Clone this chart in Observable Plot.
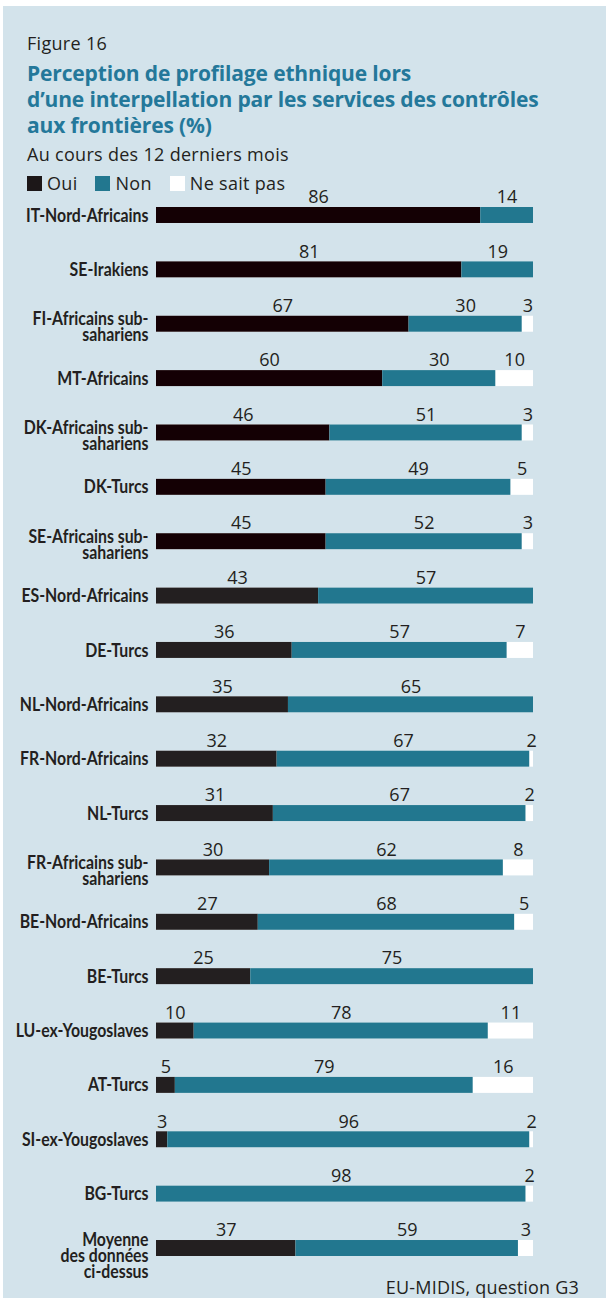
<!DOCTYPE html>
<html>
<head>
<meta charset="utf-8">
<script src="https://cdn.jsdelivr.net/npm/d3@7"></script>
<script src="https://cdn.jsdelivr.net/npm/@observablehq/plot@0.6"></script>
<style>
  html, body { margin: 0; padding: 0; background: #ffffff; }
  body { width: 610px; height: 1303px; position: relative; overflow: hidden; font-family: "Open Sans", "Noto Sans", sans-serif; color: #231f20; }
  #panel { position: absolute; left: 3px; top: 6px; width: 603px; height: 1292px; background: #d3e3eb; }
  .fig { position: absolute; left: 27px; top: 32px; font-size: 18px; line-height: 22px; letter-spacing: 0.3px; }
  .title { position: absolute; left: 27px; top: 60px; font-size: 21px; font-weight: 700; color: #24789a; line-height: 26px; letter-spacing: -0.15px; }
  .sub { position: absolute; left: 27px; top: 143px; font-size: 18px; line-height: 22px; letter-spacing: 0.3px; }
  .legend { position: absolute; left: 27px; top: 172px; font-size: 18px; line-height: 22px; display: flex; align-items: center; letter-spacing: 0.3px; }
  .legend span.sw { display: inline-block; width: 15px; height: 15px; margin-right: 5px; }
  .legend span.lab { margin-right: 18px; }
  #chart { position: absolute; left: 0; top: 176px; }
  .caption { position: absolute; right: 31px; top: 1276px; font-size: 18px; line-height: 22px; letter-spacing: 0.2px; }
</style>
</head>
<body>
<div id="panel"></div>
<div class="fig">Figure 16</div>
<div class="title">Perception de profilage ethnique lors<br>d’une interpellation par les services des contrôles<br>aux frontières (%)</div>
<div class="sub">Au cours des 12 derniers mois</div>
<div class="legend" id="legend"></div>
<div id="chart"></div>
<div class="caption">EU-MIDIS, question G3</div>
<script>
const categories = [
  "IT-Nord-Africains",
  "SE-Irakiens",
  "FI-Africains sub-\nsahariens",
  "MT-Africains",
  "DK-Africains sub-\nsahariens",
  "DK-Turcs",
  "SE-Africains sub-\nsahariens",
  "ES-Nord-Africains",
  "DE-Turcs",
  "NL-Nord-Africains",
  "FR-Nord-Africains",
  "NL-Turcs",
  "FR-Africains sub-\nsahariens",
  "BE-Nord-Africains",
  "BE-Turcs",
  "LU-ex-Yougoslaves",
  "AT-Turcs",
  "SI-ex-Yougoslaves",
  "BG-Turcs",
  "Moyenne\ndes données\nci-dessus"
];
const oui = [86, 81, 67, 60, 46, 45, 45, 43, 36, 35, 32, 31, 30, 27, 25, 10, 5, 3, 0, 37];
const non = [14, 19, 30, 30, 51, 49, 52, 57, 57, 65, 67, 67, 62, 68, 75, 78, 79, 96, 98, 59];
const nsp = [0, 0, 3, 10, 3, 5, 3, 0, 7, 0, 2, 2, 8, 5, 0, 11, 16, 2, 2, 3];
const seriesNames = ["Oui", "Non", "Ne sait pas"];
const seriesColors = ["#1c1718", "#22778f", "#ffffff"];

const rows = categories.map((c, i) => ({cat: c, i, oui: oui[i], non: non[i], nsp: nsp[i], lines: c.split("\n").length}));
const labels = [];
rows.forEach(r => {
  if (r.oui > 0) labels.push({cat: r.cat, v: r.oui, x: r.oui / 2});
  if (r.non > 0) labels.push({cat: r.cat, v: r.non, x: r.oui + r.non / 2});
  if (r.nsp > 0) labels.push({cat: r.cat, v: r.nsp, x: (r.oui + r.non + 100) / 2});
});

// legend
const leg = document.getElementById("legend");
seriesNames.forEach((n, k) => {
  const sw = document.createElement("span");
  sw.className = "sw"; sw.style.background = seriesColors[k];
  const lb = document.createElement("span");
  lb.className = "lab"; lb.textContent = n;
  leg.appendChild(sw); leg.appendChild(lb);
});

const labFont = "Lato, sans-serif";
const labOpts = (dy) => ({
  y: "cat", x: 0, text: "cat", textAnchor: "end", dx: -8, dy, lineHeight: 0.88,
  fontFamily: labFont, fontWeight: "bold", fontSize: 18, fill: "#231f20"
});

const plot = Plot.plot({
  width: 610,
  height: 1115,
  marginLeft: 156,
  marginRight: 77,
  marginTop: 31,
  marginBottom: 35,
  style: {background: "transparent", fontFamily: '"Open Sans", sans-serif', color: "#231f20"},
  x: {domain: [0, 100], axis: null},
  y: {type: "band", domain: categories, paddingInner: 0.706, paddingOuter: 0, align: 0.5, round: false, axis: null},
  marks: [
    Plot.barX(rows, {y: "cat", x1: 0, x2: 100, fill: "#ffffff"}),
    Plot.barX(rows, {y: "cat", x1: 0, x2: "oui", fill: d => d.i < 7 ? "#140004" : "#231f20"}),
    Plot.barX(rows, {y: "cat", x1: "oui", x2: d => d.oui + d.non, fill: "#22778f"}),
    Plot.text(labels, {y: "cat", x: "x", text: d => String(d.v), dy: -18, fontSize: 18, fill: "#231f20"}),
    Plot.text(rows.filter(r => r.lines === 1), labOpts(1)),
    Plot.text(rows.filter(r => r.lines === 2), labOpts(4)),
    Plot.text(rows.filter(r => r.lines === 3), labOpts(8.5))
  ]
});

// condense the row labels horizontally (the original uses a condensed bold face)
const catSet = new Set(categories.map(c => c.replace(/\n/g, "")));
plot.querySelectorAll("text").forEach(t => {
  if (catSet.has(t.textContent)) {
    const tr = t.getAttribute("transform") || "";
    t.setAttribute("transform", tr + " scale(0.88,1)");
  }
});
document.getElementById("chart").appendChild(plot);
</script>
</body>
</html>
